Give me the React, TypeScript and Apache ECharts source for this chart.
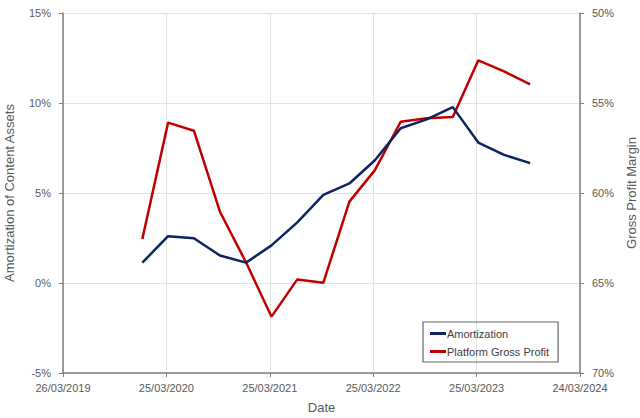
import React, { useEffect, useRef } from "react";
import * as echarts from "echarts";

const baseDate = "2019-03-26";
const endDate = "2024-03-24";
const tickIntervalDays = 365;

const quarterDates = [
  "2019-12-31", "2020-03-31", "2020-06-30", "2020-09-30",
  "2020-12-31", "2021-03-31", "2021-06-30", "2021-09-30",
  "2021-12-31", "2022-03-31", "2022-06-30", "2022-09-30",
  "2022-12-31", "2023-03-31", "2023-06-30", "2023-09-30",
];

const amortization = [
  1.13, 2.6, 2.49, 1.53, 1.13, 2.09, 3.37, 4.89,
  5.53, 6.82, 8.6, 9.09, 9.77, 7.8, 7.12, 6.66,
];

const platformGrossProfit = [
  62.56, 56.09, 56.54, 61.04, 63.85, 66.87, 64.8, 64.98,
  60.48, 58.73, 56.04, 55.85, 55.78, 52.63, 53.24, 53.97,
];

const DAY = 86400000;
const toMs = (s: string) => Date.parse(s + "T00:00:00Z");
const dayOffset = (s: string) => Math.round((toMs(s) - toMs(baseDate)) / DAY);
const fmtDate = (d: number) => {
  const dt = new Date(toMs(baseDate) + d * DAY);
  const dd = String(dt.getUTCDate()).padStart(2, "0");
  const mm = String(dt.getUTCMonth() + 1).padStart(2, "0");
  return `${dd}/${mm}/${dt.getUTCFullYear()}`;
};

const FONT = "'Liberation Sans', Arial, sans-serif";
const TXT = "#595959";
const AXIS = "#7f7f7f";
const GRID = "#e3e3e3";

export default function App() {
  const ref = useRef<HTMLDivElement>(null);
  useEffect(() => {
    if (!ref.current) return;
    const chart = echarts.init(ref.current, null, { renderer: "svg" });
    const xs = quarterDates.map(dayOffset);
    chart.setOption({
      animation: false,
      backgroundColor: "#ffffff",
      textStyle: { fontFamily: FONT },
      grid: { left: 63, right: 60, top: 13, bottom: 45, containLabel: false, outerBoundsMode: "none" },
      legend: {
        orient: "vertical",
        left: 423,
        top: 322,
        padding: [6, 9, 5, 7],
        itemGap: 7,
        itemWidth: 16,
        itemHeight: 3,
        icon: "rect",
        borderColor: "#666666",
        borderWidth: 1.2,
        borderRadius: 0,
        textStyle: { color: "#404040", fontSize: 11, fontFamily: FONT, padding: [0, 0, 0, -4] },
        data: ["Amortization", "Platform Gross Profit"],
      },
      xAxis: {
        type: "value",
        min: 0,
        max: dayOffset(endDate),
        interval: tickIntervalDays,
        name: "Date",
        nameLocation: "middle",
        nameGap: 28,
        nameTextStyle: { color: TXT, fontSize: 13, fontFamily: FONT },
        axisLine: { show: true, onZero: false, lineStyle: { color: AXIS, width: 1.5 } },
        axisTick: { show: true, length: 4, lineStyle: { color: AXIS } },
        axisLabel: {
          color: TXT,
          fontSize: 11,
          margin: 9,
          fontFamily: FONT,
          formatter: (v: number) => fmtDate(v),
        },
        splitLine: { show: true, lineStyle: { color: GRID } },
      },
      yAxis: [
        {
          type: "value",
          min: -5,
          max: 15,
          interval: 5,
          name: "Amortization of Content Assets",
          nameLocation: "middle",
          nameGap: 47,
          nameTextStyle: { color: TXT, fontSize: 13, fontFamily: FONT },
          axisLine: { show: true, onZero: false, lineStyle: { color: AXIS, width: 1.5 } },
          axisTick: { show: true, length: 4, lineStyle: { color: AXIS } },
          axisLabel: { color: TXT, fontSize: 11, margin: 12, fontFamily: FONT, formatter: (v: number) => `${v}%` },
          splitLine: { show: true, lineStyle: { color: GRID } },
        },
        {
          type: "value",
          min: 50,
          max: 70,
          interval: 5,
          inverse: true,
          position: "right",
          name: "Gross Profit Margin",
          nameLocation: "middle",
          nameGap: 43,
          nameTextStyle: { color: TXT, fontSize: 13, fontFamily: FONT },
          axisLine: { show: true, onZero: false, lineStyle: { color: AXIS, width: 1.5 } },
          axisTick: { show: true, length: 4, lineStyle: { color: AXIS } },
          axisLabel: { color: TXT, fontSize: 11, margin: 12, fontFamily: FONT, formatter: (v: number) => `${v}%` },
          splitLine: { show: false },
        },
      ],
      series: [
        {
          name: "Amortization",
          type: "line",
          yAxisIndex: 0,
          data: xs.map((x, i) => [x, amortization[i]]),
          showSymbol: false,
          symbol: "none",
          lineStyle: { color: "#0d2461", width: 2.5 },
          itemStyle: { color: "#0d2461" },
          z: 3,
        },
        {
          name: "Platform Gross Profit",
          type: "line",
          yAxisIndex: 1,
          data: xs.map((x, i) => [x, platformGrossProfit[i]]),
          showSymbol: false,
          symbol: "none",
          lineStyle: { color: "#c00000", width: 2.5 },
          itemStyle: { color: "#c00000" },
          z: 2,
        },
      ],
    });
    return () => chart.dispose();
  }, []);
  return <div ref={ref} style={{ width: 640, height: 418, position: "absolute", left: 0, top: 0 }} />;
}
